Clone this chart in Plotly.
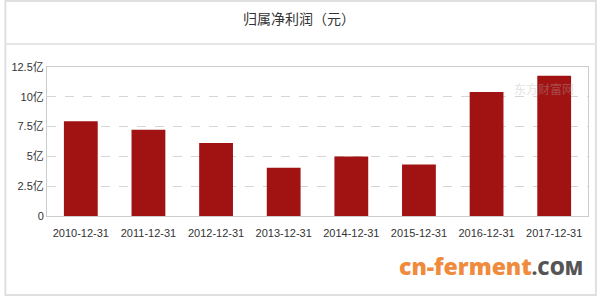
import plotly.graph_objects as go

categories = ["2010-12-31", "2011-12-31", "2012-12-31", "2013-12-31",
              "2014-12-31", "2015-12-31", "2016-12-31", "2017-12-31"]
profit_yi = [7.95, 7.24, 6.12, 4.04, 5.00, 4.33, 10.40, 11.77]
ytick_vals = [0, 2.5, 5, 7.5, 10, 12.5]
ytick_text = ["0", "2.5亿", "5亿", "7.5亿", "10亿", "12.5亿"]
title_text = "归属净利润（元）"

W, H = 600, 298
ML, MR, MT, MB = 43, 11, 67, 82
PW, PH = W - ML - MR, H - MT - MB


def px(x):
    return (x - ML) / PW


def py(y):
    return 1 - (y - MT) / PH


fig = go.Figure(go.Bar(
    x=categories, y=profit_yi, marker_color="#a11313",
    marker_line_width=0, width=0.5,
))

shapes = [
    dict(type="rect", xref="paper", yref="paper", x0=px(1), x1=px(597), y0=py(1), y1=py(295),
         line=dict(color="#e0e0e0", width=2), layer="below"),
    dict(type="line", xref="paper", yref="paper", x0=px(1), x1=px(597), y0=py(44), y1=py(44),
         line=dict(color="#e6e6e6", width=2)),
]

annotations = [
    dict(text=title_text, xref="paper", yref="paper", x=px(297), y=py(18), showarrow=False,
         xanchor="center", yanchor="middle",
         font=dict(family="Noto Sans CJK SC", size=14, color="#333333")),
    dict(text="东方财富网", xref="paper", yref="paper", x=px(545), y=py(88), showarrow=False,
         xanchor="center", yanchor="middle", opacity=0.35,
         font=dict(family="Noto Sans CJK SC", size=12, color="#b0b0b0")),
    dict(text="<span style='font-size:23px;color:#f08a3c'>cn-ferment</span>"
              "<span style='font-size:19px;color:#555555'>.COM</span>",
         xref="paper", yref="paper", x=px(586), y=py(284), showarrow=False,
         xanchor="right", yanchor="bottom",
         font=dict(family="Open Sans", size=20, weight=800)),
]

fig.update_layout(
    width=W, height=H,
    margin=dict(l=ML, r=MR, t=MT, b=MB),
    paper_bgcolor="white", plot_bgcolor="white",
    showlegend=False,
    shapes=shapes, annotations=annotations,
    xaxis=dict(
        type="category", showgrid=False, showline=True, mirror=True,
        linecolor="#cccccc", linewidth=1, ticks="", ticklabelstandoff=7,
        tickfont=dict(family="Liberation Sans, Noto Sans CJK SC", size=11, color="#333333"),
        fixedrange=True,
    ),
    yaxis=dict(
        range=[0, 12.5], tickvals=ytick_vals, ticktext=ytick_text,
        showgrid=True, gridcolor="#d6d6d6", griddash="dash", gridwidth=1,
        showline=True, mirror=True, linecolor="#cccccc", linewidth=1,
        zeroline=False, ticks="",
        tickfont=dict(family="Liberation Sans, Noto Sans CJK SC", size=11, color="#333333"),
        fixedrange=True,
    ),
)

fig.write_html("out.html", config={"displayModeBar": False})
